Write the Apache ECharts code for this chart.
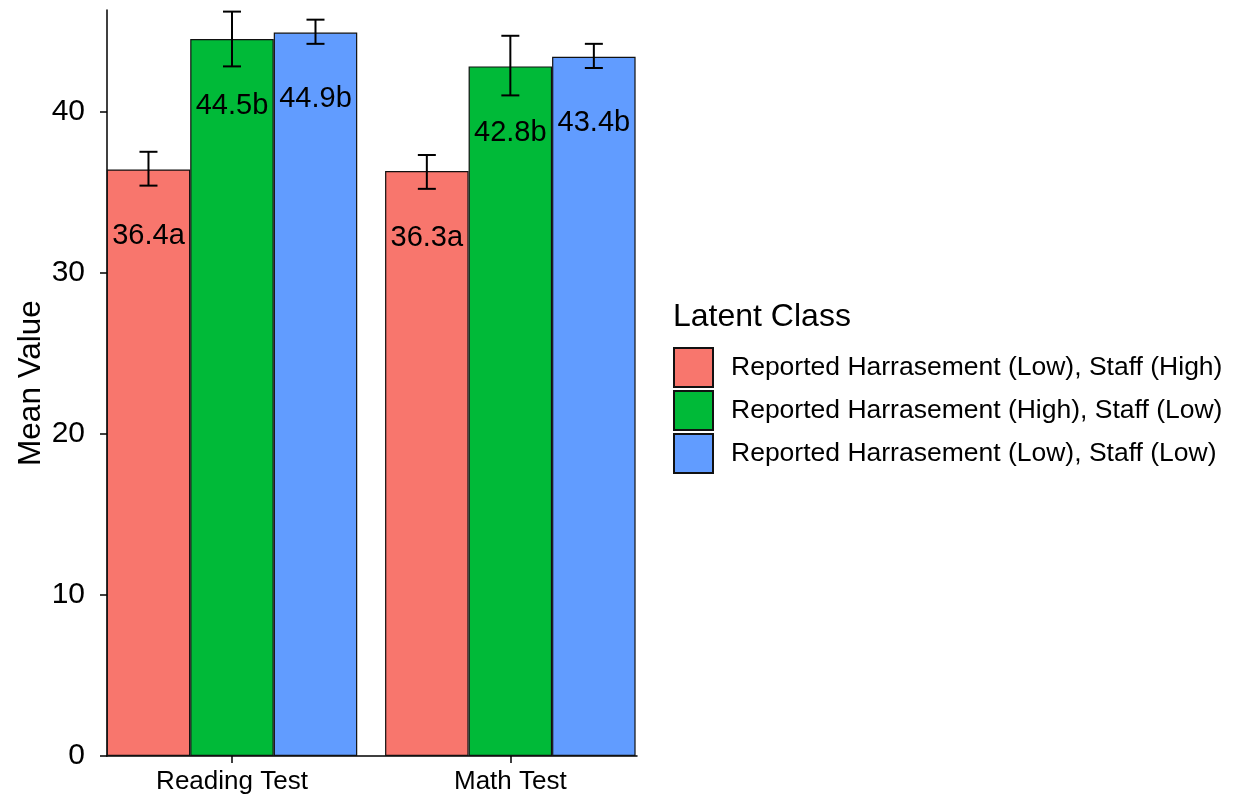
<!DOCTYPE html>
<html><head><meta charset="utf-8">
<script src="https://cdn.jsdelivr.net/npm/echarts@6/dist/echarts.min.js"></script>
<style>html,body{margin:0;padding:0;background:#fff}#c{width:1233px;height:799px}</style>
</head><body><div id="c"></div>
<script>
const categories = ['Reading Test', 'Math Test'];
const categoryPos = [1, 2];
const seriesNames = ['Reported Harrasement (Low), Staff (High)', 'Reported Harrasement (High), Staff (Low)', 'Reported Harrasement (Low), Staff (Low)'];
const means1 = [36.4, 36.3];
const means2 = [44.5, 42.8];
const means3 = [44.9, 43.4];
const lower1 = [35.4, 35.2];
const upper1 = [37.5, 37.3];
const lower2 = [42.8, 41.0];
const upper2 = [46.2, 44.7];
const lower3 = [44.2, 42.7];
const upper3 = [45.7, 44.2];
const letters1 = ['a', 'a'];
const letters2 = ['b', 'b'];
const letters3 = ['b', 'b'];
const yTicks = [0, 10, 20, 30, 40];
const colors = ['#F8766D', '#00BA38', '#619CFF'];

const means = [means1, means2, means3];
const lowers = [lower1, lower2, lower3];
const uppers = [upper1, upper2, upper3];
const letters = [letters1, letters2, letters3];
const FONT = 'Liberation Sans, Arial, sans-serif';
const BAR_FRAC = 0.3;

const chart = echarts.init(document.getElementById('c'));
const series = [];
means.forEach((m, k) => {
  series.push({
    name: seriesNames[k], type: 'bar',
    data: m.map((v, i) => [categoryPos[i], v]),
    barWidth: (BAR_FRAC * 100) + '%', barGap: '0%',
    itemStyle: { color: colors[k], borderColor: '#111', borderWidth: 1.2 },
    label: {
      show: true, position: 'insideTop', distance: 52,
      formatter: p => p.value[1].toFixed(1) + letters[k][p.dataIndex],
      color: '#000', fontSize: 29, fontFamily: FONT
    },
    emphasis: { disabled: true }, z: 2
  });
});
means.forEach((m, k) => {
  series.push({
    type: 'custom', name: 'err' + k,
    data: categoryPos.map((c, i) => [c, lowers[k][i], uppers[k][i]]),
    encode: { x: 0, y: [1, 2] },
    z: 5, silent: true,
    renderItem: (params, api) => {
      const band = api.size([1, 0])[0];
      const bw = band * BAR_FRAC;
      const cx = api.coord([api.value(0), 0])[0] + (k - 1) * bw;
      const yl = api.coord([api.value(0), api.value(1)])[1];
      const yh = api.coord([api.value(0), api.value(2)])[1];
      const hw = 9;
      const st = { stroke: '#000', lineWidth: 2 };
      return { type: 'group', children: [
        { type: 'line', shape: { x1: cx, y1: yl, x2: cx, y2: yh }, style: st },
        { type: 'line', shape: { x1: cx - hw, y1: yl, x2: cx + hw, y2: yl }, style: st },
        { type: 'line', shape: { x1: cx - hw, y1: yh, x2: cx + hw, y2: yh }, style: st }
      ]};
    }
  });
});

chart.setOption({
  animation: false,
  textStyle: { fontFamily: FONT },
  title: { text: 'Latent Class', left: 668, top: 296, textStyle: { fontSize: 32, fontWeight: 'normal', color: '#000', fontFamily: FONT } },
  legend: {
    data: seriesNames, orient: 'vertical', left: 668, top: 342,
    itemWidth: 39, itemHeight: 39, itemGap: 2, icon: 'rect',
    textStyle: { fontSize: 26.5, color: '#000', fontFamily: FONT, padding: [0, 0, 0, 13] },
    selectedMode: false
  },
  grid: { left: 107, right: 596, top: 10, bottom: 43, containLabel: false },
  xAxis: {
    type: 'value', min: 0.551, max: 2.455,
    axisLine: { show: true, onZero: false, lineStyle: { color: '#000', width: 1.5 } },
    axisTick: { show: true, length: 7, customValues: categoryPos, lineStyle: { color: '#000', width: 1.5 } },
    axisLabel: { color: '#000', fontSize: 26, margin: 13, fontFamily: FONT, customValues: categoryPos,
      formatter: v => categories[categoryPos.indexOf(Math.round(v))] || '' },
    splitLine: { show: false }
  },
  yAxis: {
    type: 'value', min: 0, max: 46.3, interval: 10,
    name: 'Mean Value', nameLocation: 'middle', nameGap: 60, nameRotate: 90,
    nameTextStyle: { fontSize: 31.5, color: '#000', fontFamily: FONT },
    axisLine: { show: true, lineStyle: { color: '#000', width: 1.5 } },
    axisTick: { show: true, length: 7, customValues: yTicks, lineStyle: { color: '#000', width: 1.5 } },
    axisLabel: { color: '#000', fontSize: 30, margin: 22, fontFamily: FONT, customValues: yTicks },
    splitLine: { show: false }
  },
  series: series
});
</script></body></html>
